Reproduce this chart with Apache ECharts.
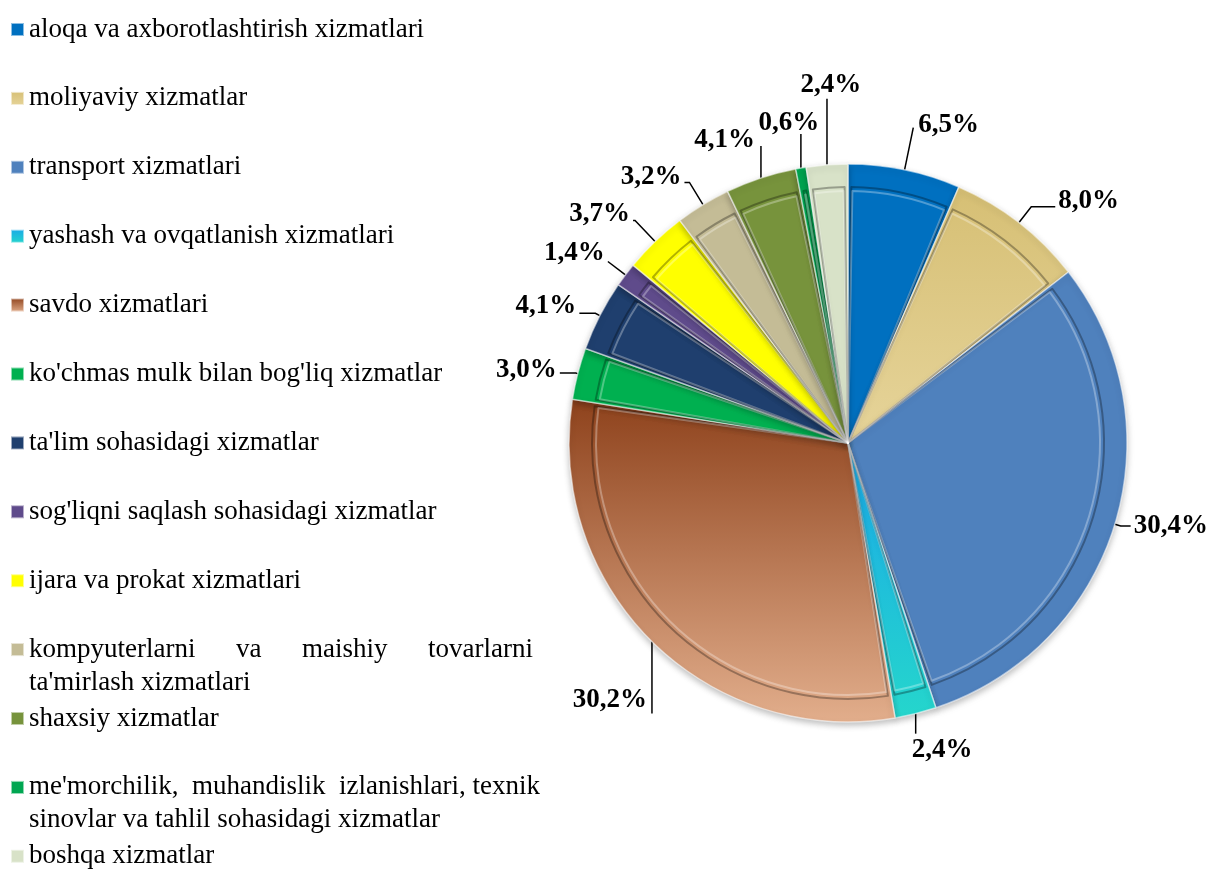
<!DOCTYPE html>
<html>
<head>
<meta charset="utf-8">
<script src="https://cdn.jsdelivr.net/npm/echarts@6/dist/echarts.min.js"></script>
<style>
  html, body { margin: 0; padding: 0; background: #fff; }
  #main { width: 1206px; height: 873px; }
</style>
</head>
<body>
<div id="main"></div>
<script>
// xizmatlar turlari
var categories = [
  'aloqa va axborotlashtirish xizmatlari',
  'moliyaviy xizmatlar',
  'transport xizmatlari',
  'yashash va ovqatlanish xizmatlari',
  'savdo xizmatlari',
  "ko'chmas mulk bilan bog'liq xizmatlar",
  "ta'lim sohasidagi xizmatlar",
  "sog'liqni saqlash sohasidagi xizmatlar",
  'ijara va prokat xizmatlari',
  "kompyuterlarni va maishiy tovarlarni ta'mirlash xizmatlari",
  'shaxsiy xizmatlar',
  "me'morchilik, muhandislik izlanishlari, texnik sinovlar va tahlil sohasidagi xizmatlar",
  'boshqa xizmatlar'
];
// ulushi, %
var values = [6.5, 8.0, 30.4, 2.4, 30.2, 3.0, 4.1, 1.4, 3.7, 3.2, 4.1, 0.6, 2.4];

// legend: ikki qatorli yozuvlar (birinchi qator legendda, ikkinchisi ostida)
var legendFirst = {};
legendFirst[categories[9]] = 'kompyuterlarni      va      maishiy      tovarlarni';
legendFirst[categories[11]] = "me'morchilik,  muhandislik  izlanishlari, texnik";
var legendSecond = {};
legendSecond[categories[9]] = "ta'mirlash xizmatlari";
legendSecond[categories[11]] = 'sinovlar va tahlil sohasidagi xizmatlar';

function grad(c0, c1) {
  return new echarts.graphic.LinearGradient(0, 0, 0, 1, [
    { offset: 0, color: c0 }, { offset: 1, color: c1 }
  ]);
}
var colors = [
  '#0070C0',
  grad('#D6BF74', '#E6D49A'),
  '#4F81BD',
  grad('#1AA8E8', '#25D6CC'),
  grad('#8E421C', '#E2AE8C'),
  '#00B050',
  '#1F3F6E',
  '#5F4B8B',
  '#FFFF00',
  '#C4BC96',
  '#77933C',
  '#00A651',
  '#D8E2C8'
];

// yorliq chiziqlari: len/len2 - chiziq uzunligi;
// dir: 'up'/'down' - tik chiziq, 'radial' - faqat birinchi bo'lak; bo'lmasa odatiy
var labelLines = [
  { len: 43, len2: 0, dir: 'radial', align: 'left', dx: 5, dy: -3 },
  { len: 20, len2: 24, dy: -6 },
  { len: 6, len2: 10, dy: 0 },
  { len: 20, len2: 0, dir: 'down', align: 'left', dx: -4, dy: 16 },
  { len: 72, len2: 0, dir: 'down', align: 'right', dx: -5, dy: -13 },
  { len: 2, len2: 16, dy: -3 },
  { len: 5, len2: 16, dy: -7 },
  { len: 22, len2: 0, dy: -8 },
  { len: 29, len2: 2, dy: -6 },
  { len: 26, len2: 5, dy: -5 },
  { len: 32, len2: 0, dir: 'up', align: 'right', dx: -6, dy: -6 },
  { len: 34, len2: 0, dir: 'up', align: 'center', dx: -12, dy: -11 },
  { len: 66, len2: 0, dir: 'up', align: 'center', dx: 4, dy: -14 }
];

var chart = echarts.init(document.getElementById('main'));

var pieData = [];
for (var i = 0; i < categories.length; i++) {
  pieData.push({
    name: categories[i],
    value: values[i],
    itemStyle: { color: colors[i] },
    labelLine: { length: labelLines[i].len, length2: labelLines[i].len2 }
  });
}

var legends = [];
var graphics = [];
for (var k = 0; k < categories.length; k++) {
  var legendTop = 16 + k * 68.9;
  legends.push({
    data: [categories[k]],
    left: 10,
    top: legendTop,
    padding: 0,
    itemWidth: 13,
    itemHeight: 13,
    itemGap: 0,
    icon: 'rect',
    selectedMode: false,
    formatter: function (name) { return legendFirst[name] || name; },
    textStyle: {
      fontFamily: 'Liberation Serif',
      fontSize: 27,
      color: '#000'
    }
  });
  if (legendSecond[categories[k]]) {
    graphics.push({
      type: 'text',
      left: 29,
      top: legendTop + 33,
      style: {
        text: legendSecond[categories[k]],
        font: '27px "Liberation Serif"',
        fill: '#000'
      }
    });
  }
}

// bevel uchun qo'shimcha (shaffof) halqa
function bevel(r, pad, stroke) {
  return {
    type: 'pie',
    center: [848, 443],
    radius: [0, r],
    startAngle: 90,
    padAngle: pad,
    silent: true,
    data: values.map(function (v, idx) { return { name: categories[idx], value: v }; }),
    itemStyle: { color: 'rgba(0,0,0,0)', borderColor: stroke, borderWidth: 2 },
    label: { show: false },
    labelLine: { show: false },
    legendHoverLink: false
  };
}

chart.setOption({
  animation: false,
  backgroundColor: '#fff',
  legend: legends,
  graphic: graphics,
  series: [{
    type: 'pie',
    center: [848, 443],
    radius: 279,
    startAngle: 90,
    clockwise: true,
    avoidLabelOverlap: false,
    data: pieData,
    itemStyle: {
      borderColor: 'rgba(255,255,255,0.55)',
      borderWidth: 1.5,
      shadowColor: 'rgba(0,0,0,0.25)',
      shadowBlur: 6,
      shadowOffsetY: 3
    },
    label: {
      position: 'outside',
      formatter: function (p) { return p.value.toFixed(1).replace('.', ',') + '%'; },
      fontFamily: 'Liberation Serif',
      fontWeight: 'bold',
      fontSize: 27,
      color: '#000',
      distanceToLabelLine: 3
    },
    labelLine: {
      lineStyle: { color: '#000', width: 1.5 }
    },
    labelLayout: function (params) {
      var m = labelLines[params.dataIndex];
      if (!m.dir || !params.labelLinePoints) { return { dy: m.dy || 0 }; }
      var pts = params.labelLinePoints;
      var p0 = [pts[0][0], pts[0][1]];
      var p1;
      if (m.dir === 'radial') {
        p1 = [pts[1][0], pts[1][1]];
      } else {
        p1 = [p0[0], m.dir === 'up' ? p0[1] - m.len : p0[1] + m.len];
      }
      return {
        x: p1[0] + m.dx,
        y: p1[1] + m.dy,
        align: m.align,
        verticalAlign: 'middle',
        labelLinePoints: [p0, p1]
      };
    }
  },
  bevel(256, 1.5, 'rgba(0,0,0,0.3)'),
  bevel(252, 2.0, 'rgba(255,255,255,0.3)')
  ]
});
</script>
</body>
</html>
